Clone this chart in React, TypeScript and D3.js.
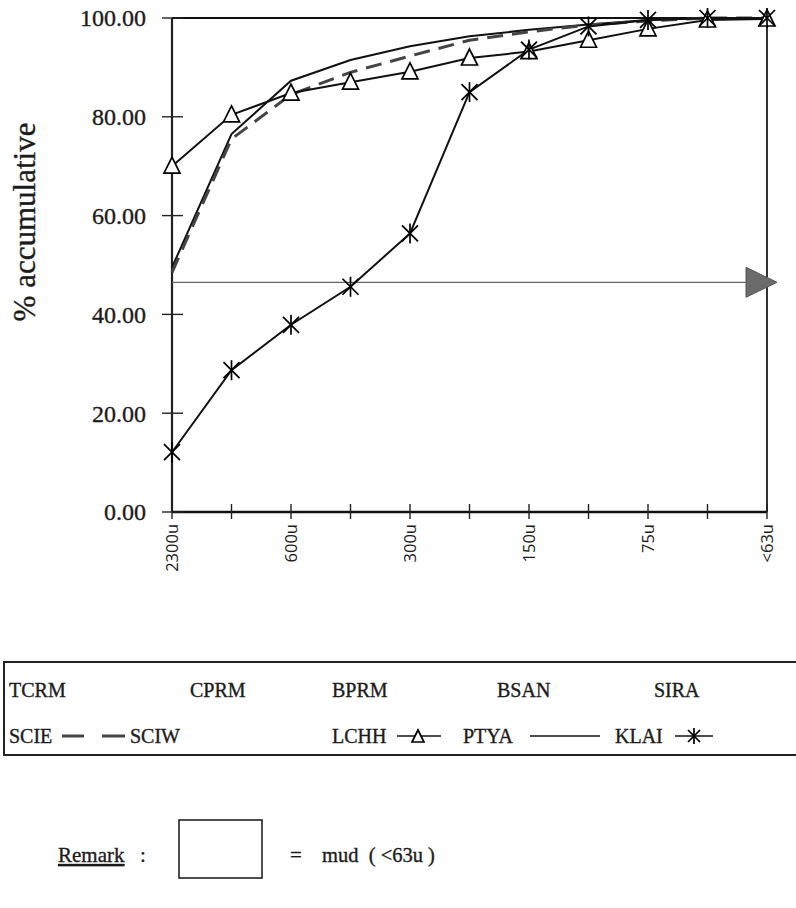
import React from 'react';
import * as d3 from 'd3';

// ---- data ----
const sieveLabels = ["2300u", "", "600u", "", "300u", "", "150u", "", "75u", "", "<63u"];
const yTickValues = [0, 20, 40, 60, 80, 100];
const seriesPTYA = [49.5, 76.5, 87.3, 91.5, 94.3, 96.3, 97.6, 98.7, 99.6, 100, 100];
const seriesSCIE = [48.5, 75.5, 84.5, 89.0, 92.3, 95.5, 97.2, 98.6, 99.4, 100, 100];
const seriesLCHH = [70.0, 80.4, 84.8, 87.0, 89.1, 91.9, 93.2, 95.5, 97.8, 99.6, 99.8];
const seriesKLAI = [12.1, 28.7, 37.9, 45.6, 56.4, 85.0, 93.6, 98.3, 99.6, 100, 100];
const referenceLevel = 46.5;
const legendRow1 = ["TCRM", "CPRM", "BPRM", "BSAN", "SIRA"];
const legendRow2 = ["SCIE", "SCIW", "LCHH", "PTYA", "KLAI"];
const yTitle = "% accumulative";
const remarkLabel = "Remark";
const remarkText = "mud  ( <63u )";

const SERIF = "'Liberation Serif', 'Times New Roman', serif";
const SANS = "'Open Sans', 'Liberation Sans', sans-serif";
const INK = "#1c1c1c";

function Tri({ cx, cy, s = 8 }: { cx: number; cy: number; s?: number }) {
  return (
    <path
      d={`M${cx},${cy - s - 1} L${cx + s},${cy + s - 1} L${cx - s},${cy + s - 1} Z`}
      fill="#fff"
      stroke="#000"
      strokeWidth={1.7}
    />
  );
}

function Star({ cx, cy, s = 8 }: { cx: number; cy: number; s?: number }) {
  return (
    <g stroke="#000" strokeWidth={1.7}>
      <line x1={cx - s} y1={cy - s} x2={cx + s} y2={cy + s} />
      <line x1={cx - s} y1={cy + s} x2={cx + s} y2={cy - s} />
      <line x1={cx} y1={cy - s - 2} x2={cx} y2={cy + s + 2} />
    </g>
  );
}

const txt = { fill: INK, stroke: INK, strokeWidth: 0.35 } as const;

export default function App() {
  const W = 796;
  const H = 908;
  const idx = d3.range(sieveLabels.length);
  const x = d3.scalePoint<number>().domain(idx).range([172, 767]);
  const y = d3.scaleLinear().domain([0, 100]).range([512, 18]);
  const line = d3
    .line<number>()
    .x((_, i) => x(i) as number)
    .y((d) => y(d));

  const x0 = x(0) as number;
  const x1 = x(idx.length - 1) as number;
  const yTop = y(100);
  const yBot = y(0);
  const yRef = y(referenceLevel);

  // legend layout
  const col1 = [9, 190, 332, 497, 654];
  const col2 = [9, 130, 332, 463, 615];
  const row1Y = 697;
  const row2Y = 743;

  return (
    <svg
      width={W}
      height={H}
      viewBox={`0 0 ${W} ${H}`}
      style={{ position: 'absolute', left: 0, top: 0, background: '#fff' }}
    >
      <rect x={0} y={0} width={W} height={H} fill="#fff" />

      {/* frame */}
      <line x1={x0} y1={yTop} x2={x1} y2={yTop} stroke="#111" strokeWidth={2.2} />
      <line x1={x1} y1={yTop} x2={x1} y2={yBot} stroke="#333" strokeWidth={2} />
      <line x1={x0} y1={yTop} x2={x0} y2={yBot} stroke="#222" strokeWidth={2.2} />
      <line x1={x0} y1={yBot} x2={x1} y2={yBot} stroke="#111" strokeWidth={2.4} />

      {/* y ticks + labels */}
      {yTickValues.map((v) => (
        <g key={v}>
          <line x1={x0 - 10} x2={x0 + 11} y1={y(v)} y2={y(v)} stroke="#222" strokeWidth={1.4} />
          <text
            x={x0 - 26}
            y={y(v)}
            dy="0.35em"
            textAnchor="end"
            fontFamily={SERIF}
            fontSize={24}
            {...txt}
          >
            {v.toFixed(2)}
          </text>
        </g>
      ))}

      {/* y title */}
      <text
        transform={`translate(35, 222) rotate(-90)`}
        textAnchor="middle"
        fontFamily={SERIF}
        fontSize={31}
        {...txt}
      >
        {yTitle}
      </text>

      {/* x ticks + labels */}
      {idx.map((i) => (
        <g key={i}>
          <line x1={x(i)} x2={x(i)} y1={yBot - 8} y2={yBot + 7} stroke="#222" strokeWidth={1.4} />
          {sieveLabels[i] && (
            <text
              transform={`translate(${(x(i) as number) + 6}, ${yBot + 12}) rotate(-90)`}
              textAnchor="end"
              fontFamily={SANS}
              fontSize={16.5}
              fill={INK}
            >
              {sieveLabels[i]}
            </text>
          )}
        </g>
      ))}

      {/* reference line + arrow */}
      <line x1={x0} x2={x1 - 20} y1={yRef} y2={yRef} stroke="#666" strokeWidth={1.2} />
      <path
        d={`M${x1 - 21},${yRef - 15} L${x1 + 10},${yRef} L${x1 - 21},${yRef + 15} Z`}
        fill="#6b6b6b"
        stroke="#555"
        strokeWidth={1}
      />

      {/* series lines */}
      <path d={line(seriesPTYA) || ''} fill="none" stroke="#111" strokeWidth={2} />
      <path
        d={line(seriesSCIE) || ''}
        fill="none"
        stroke="#444"
        strokeWidth={3}
        strokeDasharray="16 9"
      />
      <path d={line(seriesLCHH) || ''} fill="none" stroke="#111" strokeWidth={2} />
      <path d={line(seriesKLAI) || ''} fill="none" stroke="#111" strokeWidth={2} />

      {seriesLCHH.map((v, i) => (
        <Tri key={'t' + i} cx={x(i) as number} cy={y(v)} />
      ))}
      {seriesKLAI.map((v, i) => (
        <Star key={'s' + i} cx={x(i) as number} cy={y(v)} />
      ))}

      {/* legend box */}
      <rect x={4} y={662} width={800} height={93} fill="none" stroke="#222" strokeWidth={2} />
      {legendRow1.map((n, i) => (
        <text key={n} x={col1[i]} y={row1Y} fontFamily={SERIF} fontSize={20} {...txt}>
          {n}
        </text>
      ))}
      {legendRow2.map((n, i) => (
        <text key={n} x={col2[i]} y={row2Y} fontFamily={SERIF} fontSize={20} {...txt}>
          {n}
        </text>
      ))}
      {/* legend symbols */}
      <line x1={62} x2={84} y1={row2Y - 7} y2={row2Y - 7} stroke="#444" strokeWidth={3} />
      <line x1={102} x2={125} y1={row2Y - 7} y2={row2Y - 7} stroke="#444" strokeWidth={3} />
      <line x1={397} x2={441} y1={row2Y - 7} y2={row2Y - 7} stroke="#111" strokeWidth={1.6} />
      <Tri cx={418} cy={row2Y - 6} s={6} />
      <line x1={530} x2={600} y1={row2Y - 7} y2={row2Y - 7} stroke="#111" strokeWidth={1.6} />
      <line x1={675} x2={713} y1={row2Y - 7} y2={row2Y - 7} stroke="#111" strokeWidth={1.6} />
      <Star cx={694} cy={row2Y - 7} s={6} />

      {/* remark */}
      <text x={58} y={862} fontFamily={SERIF} fontSize={21} textDecoration="underline" {...txt}>
        {remarkLabel}
      </text>
      <text x={140} y={862} fontFamily={SERIF} fontSize={21} {...txt}>
        :
      </text>
      <rect x={179} y={820} width={83} height={58} fill="#fff" stroke="#222" strokeWidth={1.6} />
      <text x={290} y={862} fontFamily={SERIF} fontSize={21} {...txt}>
        =
      </text>
      <text x={322} y={862} fontFamily={SERIF} fontSize={20.5} style={{ whiteSpace: 'pre' }} {...txt}>
        {remarkText}
      </text>
    </svg>
  );
}
